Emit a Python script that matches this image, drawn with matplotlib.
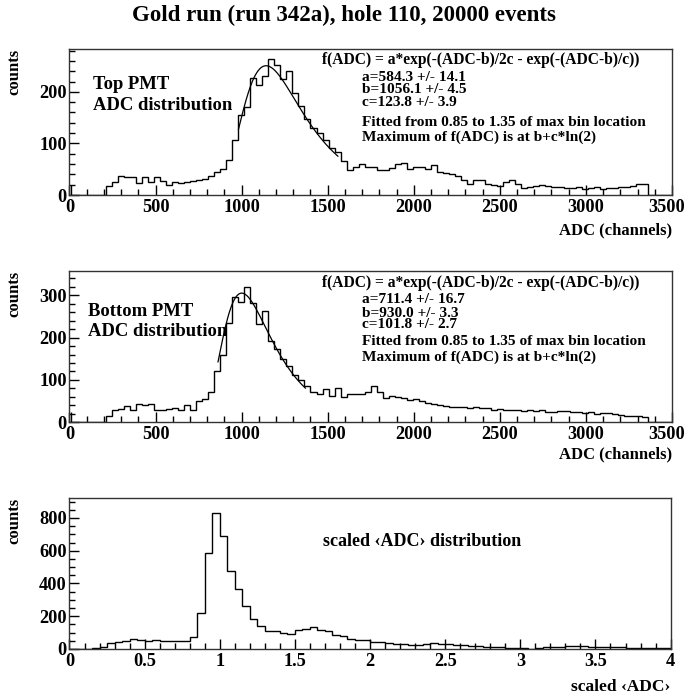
import numpy as np
import matplotlib.pyplot as plt
import matplotlib.transforms as mtransforms
from matplotlib.ticker import MultipleLocator

plt.rcParams['font.family'] = ['Liberation Serif', 'DejaVu Serif']
plt.rcParams['font.weight'] = 'bold'
plt.rcParams['axes.labelweight'] = 'bold'

# ADC histograms: 100 bins of 35 channels from 0 to 3500
adc_bin_width = 35
top_counts = [0, 0, 0, 0, 0, 0, 18, 26, 37, 35,
              35, 24, 34, 25, 34, 28, 20, 25, 24, 26,
              28, 29, 31, 36, 45, 50, 67, 107, 155, 171,
              226, 214, 230, 263, 252, 225, 241, 197, 172, 148,
              130, 120, 107, 92, 84, 65, 49, 55, 61, 55,
              55, 49, 49, 52, 61, 62, 50, 55, 55, 50,
              58, 45, 42, 40, 36, 29, 21, 30, 29, 22,
              19, 18, 26, 29, 22, 13, 16, 18, 19, 17,
              15, 16, 14, 13, 15, 12, 14, 16, 12, 13,
              14, 16, 15, 17, 21, 22, 0, 0, 0, 0]
bottom_counts = [0, 0, 0, 0, 0, 0, 16, 30, 32, 38,
                 30, 44, 40, 44, 29, 28, 32, 34, 28, 41,
                 28, 50, 55, 72, 120, 160, 235, 297, 285, 320,
                 281, 232, 262, 192, 172, 150, 132, 112, 100, 86,
                 72, 68, 78, 62, 80, 60, 68, 66, 66, 72,
                 85, 72, 57, 62, 60, 58, 52, 55, 50, 46,
                 44, 40, 38, 37, 35, 36, 33, 35, 33, 34,
                 30, 31, 29, 30, 28, 27, 30, 26, 28, 25,
                 24, 27, 26, 25, 24, 22, 25, 20, 23, 21,
                 20, 18, 16, 14, 15, 12, 0, 0, 0, 0]
top_pedestal = 20
bottom_pedestal = 25

# scaled <ADC>: 80 bins of 0.05 from 0 to 4
scaled_bin_width = 0.05
scaled_counts = [0, 0, 2, 5, 15, 35, 45, 51, 59, 55,
                 49, 55, 51, 49, 47, 49, 71, 218, 588, 832,
                 690, 478, 364, 263, 183, 140, 110, 108, 96, 90,
                 116, 122, 132, 116, 110, 85, 77, 59, 55, 55,
                 41, 41, 35, 31, 31, 26, 26, 30, 35, 31,
                 28, 24, 22, 18, 16, 14, 14, 10, 5, 4,
                 3, 2, 6, 10, 12, 14, 16, 18, 18, 15,
                 14, 13, 12, 10, 9, 8, 8, 7, 5, 4]

# fit parameters
top_fit = dict(a=584.3, b=1056.1, c=123.8, peak=1155)
bottom_fit = dict(a=711.4, b=930.0, c=101.8, peak=1015)
top_text = ['a=584.3 +/- 14.1', 'b=1056.1 +/- 4.5', 'c=123.8 +/- 3.9']
bottom_text = ['a=711.4 +/- 16.7', 'b=930.0 +/- 3.3', 'c=101.8 +/- 2.7']
formula = 'f(ADC) = a*exp(-(ADC-b)/2c - exp(-(ADC-b)/c))'


def fitfunc(x, a, b, c):
    return a * np.exp(-(x - b) / (2 * c) - np.exp(-(x - b) / c))


def style(ax, xmajor, xminor, ymajor, yminor):
    ax.xaxis.set_major_locator(MultipleLocator(xmajor))
    ax.xaxis.set_minor_locator(MultipleLocator(xminor))
    ax.yaxis.set_major_locator(MultipleLocator(ymajor))
    ax.yaxis.set_minor_locator(MultipleLocator(yminor))
    ax.tick_params(which='both', direction='in', top=False, right=False,
                   labelsize=13.2, width=1)
    ax.tick_params(which='major', length=7.5)
    ax.tick_params(axis='x', which='major', pad=3)
    ax.tick_params(axis='y', which='major', pad=2)
    ax.tick_params(which='minor', length=4.3)
    for s in ax.spines.values():
        s.set_linewidth(1)
        s.set_color('#333333')
    ax.set_ylabel('counts', loc='top', fontsize=12)
    ax.yaxis.set_label_coords(-0.078, 1.0)


fig = plt.figure(figsize=(6.88, 6.97), dpi=100)
fig.text(0.5, 1 - 15 / 697, 'Gold run (run 342a), hole 110, 20000 events',
         ha='center', va='center', fontsize=16.5)

panels = [
    (top_counts, top_pedestal, top_fit, top_text, ['Top PMT', 'ADC distribution'],
     [0.101, 0.7202, 0.8757, 0.2095], 100, 20, 283),
    (bottom_counts, bottom_pedestal, bottom_fit, bottom_text, ['Bottom PMT', 'ADC distribution'],
     [0.101, 0.3941, 0.8757, 0.2175], 100, 20, 358),
]
label_y = [-0.185, -0.156]
text_ys = [[0.925, 0.808, 0.726, 0.637, 0.50, 0.397],
           [0.919, 0.807, 0.721, 0.642, 0.53, 0.431]]
name_ys = [[0.76, 0.616], [0.728, 0.596]]
name_x = [0.039, 0.031]
shift_left = mtransforms.ScaledTranslation(-5 / 100, 0, fig.dpi_scale_trans)

for i, (counts, ped, fit, ptext, names, rect, ymaj, ymin, ytop) in enumerate(panels):
    ax = fig.add_axes(rect)
    edges = np.arange(len(counts) + 1) * adc_bin_width
    ax.stairs(counts, edges, baseline=0, color='black', linewidth=1)
    ax.vlines(10, 0, ped, color='black', linewidth=1)
    xf = np.linspace(0.85 * fit['peak'], 1.35 * fit['peak'], 200)
    ax.plot(xf, fitfunc(xf, fit['a'], fit['b'], fit['c']), color='black', linewidth=0.9)
    ax.set_xlim(0, 3500)
    ax.set_ylim(0, ytop)
    style(ax, 500, 100, ymaj, ymin)
    ax.set_xticks([0, 500, 1000, 1500, 2000, 2500, 3000, 3500])
    ax.set_xticklabels(['0', '500', '1000', '1500', '2000', '2500', '3000', '3500'])
    last = ax.get_xticklabels()[-1]
    last.set_transform(last.get_transform() + shift_left)
    ax.set_xlabel('ADC (channels)', loc='right', fontsize=12)
    ax.xaxis.set_label_coords(1.0, label_y[i])
    ty = text_ys[i]
    ax.text(name_x[i], name_ys[i][0], names[0], transform=ax.transAxes,
            fontsize=13.4, va='center')
    ax.text(name_x[i], name_ys[i][1], names[1], transform=ax.transAxes,
            fontsize=13.4, va='center')
    ax.text(0.419, ty[0], formula, transform=ax.transAxes, fontsize=11.2, va='center')
    for j in range(3):
        ax.text(0.485, ty[1 + j], ptext[j], transform=ax.transAxes,
                fontsize=11.1, va='center')
    ax.text(0.485, ty[4], 'Fitted from 0.85 to 1.35 of max bin location',
            transform=ax.transAxes, fontsize=11.1, va='center')
    ax.text(0.485, ty[5], 'Maximum of f(ADC) is at b+c*ln(2)',
            transform=ax.transAxes, fontsize=11.1, va='center')

ax = fig.add_axes([0.101, 0.0689, 0.8737, 0.2162])
edges = np.arange(len(scaled_counts) + 1) * scaled_bin_width
ax.stairs(scaled_counts, edges, baseline=0, color='black', linewidth=1)
ax.set_xlim(0, 4)
ax.set_ylim(0, 920)
style(ax, 0.5, 0.1, 200, 50)
ax.set_xticks([0, 0.5, 1, 1.5, 2, 2.5, 3, 3.5, 4])
ax.set_xticklabels(['0', '0.5', '1', '1.5', '2', '2.5', '3', '3.5', '4'])
ax.set_xlabel('scaled \u2039ADC\u203a', loc='right', fontsize=12.5)
ax.xaxis.set_label_coords(1.0, -0.2)
ax.text(0.421, 0.71, 'scaled \u2039ADC\u203a distribution', transform=ax.transAxes,
        fontsize=13, va='center')

fig.savefig('out.png', dpi=100)
